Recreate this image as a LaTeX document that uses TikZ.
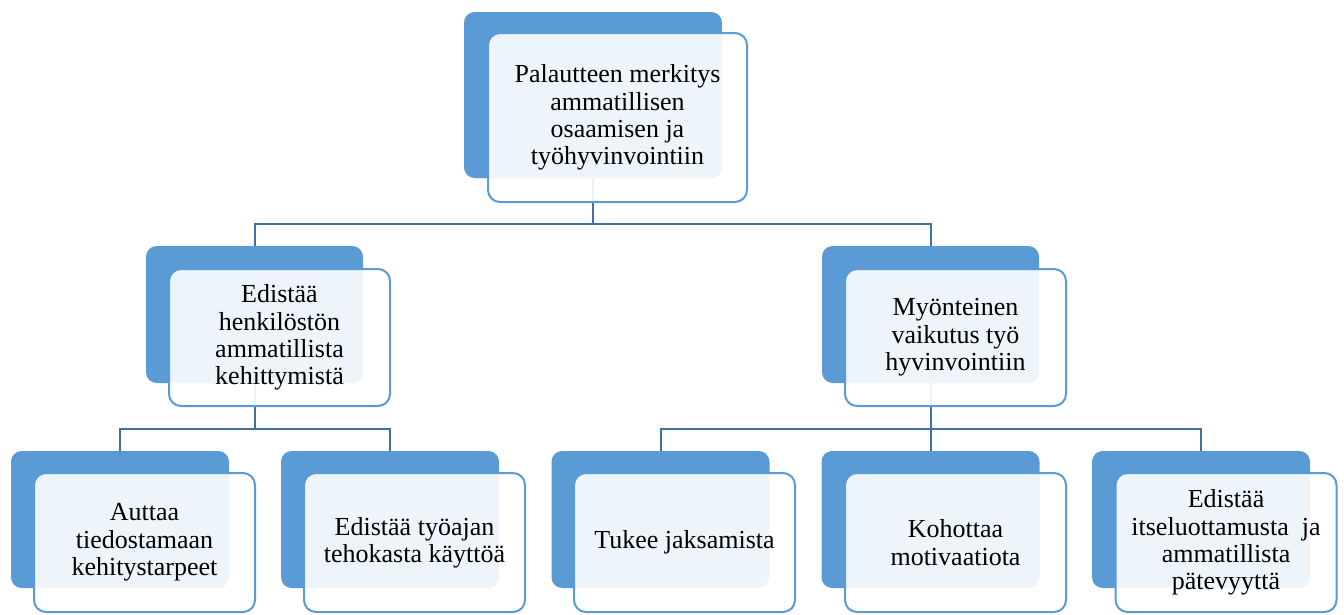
\documentclass[tikz,border=0pt]{standalone}
\usepackage{fontspec}
\setmainfont{Liberation Serif}
\definecolor{bblue}{HTML}{5B9BD5}
\definecolor{cblue}{HTML}{41719C}
\begin{document}
\begin{tikzpicture}[x=0.75pt,y=-0.75pt,
  backbox/.style={fill=bblue, rounded corners=8pt, inner sep=0pt},
  topb/.style={backbox, minimum width=193.5pt, minimum height=124.5pt},
  topf/.style={frontbox, minimum width=194.25pt, minimum height=126.75pt},
  midb/.style={backbox, minimum width=162.75pt, minimum height=102.75pt},
  midf/.style={frontbox, minimum width=165.75pt, minimum height=102.75pt},
  lowb/.style={backbox, minimum width=163.5pt, minimum height=102.75pt},
  lowf/.style={frontbox, minimum width=165.75pt, minimum height=104.25pt},
  frontbox/.style={draw=bblue, line width=1.5pt, fill=white, fill opacity=0.9, text opacity=1,
    rounded corners=9pt, align=center, inner sep=2pt, text=black,
    font=\fontsize{19.5}{20.5}\selectfont},
  conn/.style={draw=cblue, line width=1.5pt}]
\useasboundingbox (0,0) rectangle (1344,614);

% back boxes
\node[topb] (tB) at (593,95) {};
\node[midb] (lB) at (254.5,314.5) {};
\node[midb] (rB) at (930.5,314.5) {};
\node[lowb] (c1B) at (120,519.5) {};
\node[lowb] (c2B) at (390,519.5) {};
\node[lowb] (c3B) at (660.5,519.5) {};
\node[lowb] (c4B) at (930.5,519.5) {};
\node[lowb] (c5B) at (1201,519.5) {};

% connectors
\coordinate (bar1) at (593,224);
\coordinate (barL) at (254.5,429);
\coordinate (barR) at (930.5,429);
\draw[conn] (tB.south) -- (bar1) -| (lB.north);
\draw[conn] (bar1) -| (rB.north);
\draw[conn] (lB.south) -- (barL) -| (c1B.north);
\draw[conn] (barL) -| (c2B.north);
\draw[conn] (rB.south) -- (c4B.north);
\draw[conn] (barR) -| (c3B.north);
\draw[conn] (barR) -| (c5B.north);

% front boxes
\node[topf] (tF) at (617.5,117.5) {Palautteen merkitys\\ammatillisen\\osaamisen ja\\työhyvinvointiin};
\node[midf] (lF) at (279.5,337.5) {Edistää\\henkilöstön\\ammatillista\\kehittymistä};
\node[midf] (rF) at (955.5,337.5) {Myönteinen\\vaikutus työ\\hyvinvointiin};
\node[lowf] (c1F) at (144.5,542.5) {Auttaa\\tiedostamaan\\kehitystarpeet};
\node[lowf] (c2F) at (414.5,542.5) {Edistää työajan\\tehokasta käyttöä};
\node[lowf] (c3F) at (684.5,542.5) {Tukee jaksamista};
\node[lowf] (c4F) at (955.5,542.5) {Kohottaa\\motivaatiota};
\node[lowf] (c5F) at (1226,542.5) {Edistää\\itseluottamusta\ \ ja\\ammatillista\\pätevyyttä};
\end{tikzpicture}
\end{document}
